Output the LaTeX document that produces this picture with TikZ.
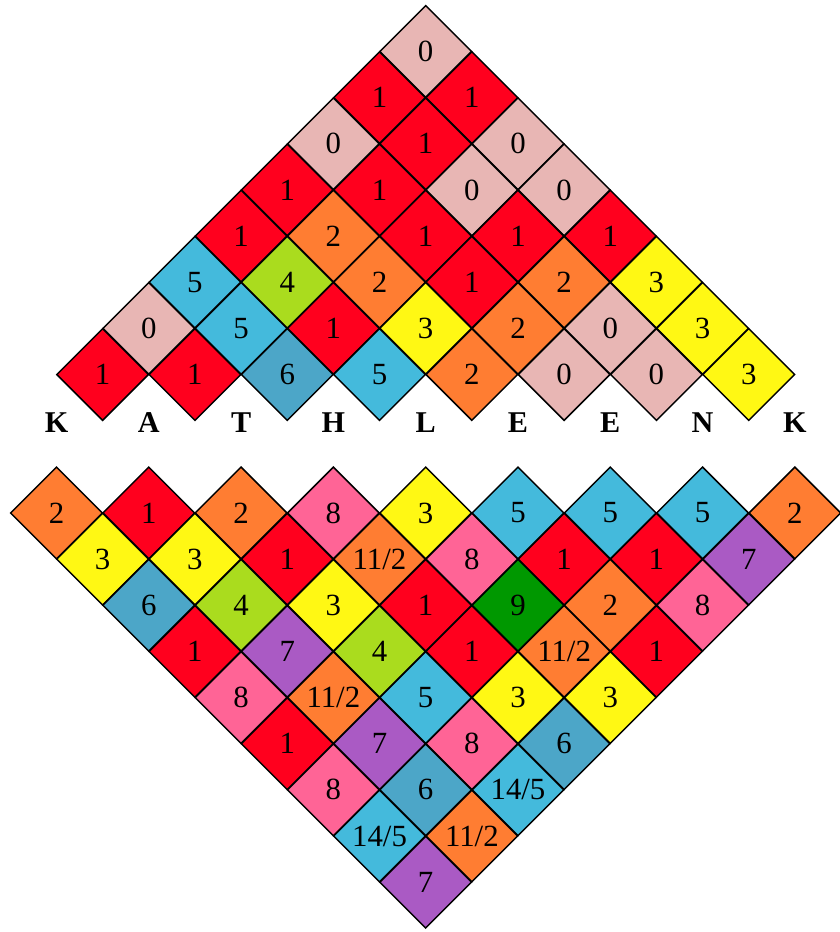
\documentclass[tikz,border=0pt]{standalone}
\usepackage{fontspec}
\setmainfont{Liberation Serif}
\usetikzlibrary{shapes.geometric}

\definecolor{cRose}{RGB}{232,182,180}
\definecolor{cRed}{RGB}{255,0,30}
\definecolor{cOrange}{RGB}{255,125,50}
\definecolor{cYellow}{RGB}{255,248,20}
\definecolor{cLime}{RGB}{170,220,30}
\definecolor{cSky}{RGB}{68,186,220}
\definecolor{cSteel}{RGB}{76,166,200}
\definecolor{cPurple}{RGB}{170,90,196}
\definecolor{cPink}{RGB}{255,100,150}
\definecolor{cGreen}{RGB}{0,152,0}

\tikzset{
  cell/.style={diamond, aspect=1, draw=black, line width=0.45pt,
    minimum width=1cm, minimum height=1cm, inner sep=0pt,
    font=\fontsize{9.5}{11}\selectfont},
  rosecell/.style={cell, fill=cRose},
  redcell/.style={cell, fill=cRed},
  orangecell/.style={cell, fill=cOrange},
  yellowcell/.style={cell, fill=cYellow},
  limecell/.style={cell, fill=cLime},
  skycell/.style={cell, fill=cSky},
  steelcell/.style={cell, fill=cSteel},
  purplecell/.style={cell, fill=cPurple},
  pinkcell/.style={cell, fill=cPink},
  greencell/.style={cell, fill=cGreen},
  letter/.style={font=\fontsize{9.3}{11}\selectfont\bfseries, inner sep=0pt}
}

\begin{document}
\begin{tikzpicture}[x=0.5cm,y=0.5cm]
    \useasboundingbox (-1.224,-11.08) rectangle (16.977,9.115);

    % Upper triangle (row 7 at the top)
    \node[rosecell]   (t70) at (8,8) {0};
    \node[redcell]    (t60) at (7,7) {1};
    \node[redcell]    (t61) at (9,7) {1};
    \node[rosecell]   (t50) at (6,6) {0};
    \node[redcell]    (t51) at (8,6) {1};
    \node[rosecell]   (t52) at (10,6) {0};
    \node[redcell]    (t40) at (5,5) {1};
    \node[redcell]    (t41) at (7,5) {1};
    \node[rosecell]   (t42) at (9,5) {0};
    \node[rosecell]   (t43) at (11,5) {0};
    \node[redcell]    (t30) at (4,4) {1};
    \node[orangecell] (t31) at (6,4) {2};
    \node[redcell]    (t32) at (8,4) {1};
    \node[redcell]    (t33) at (10,4) {1};
    \node[redcell]    (t34) at (12,4) {1};
    \node[skycell]    (t20) at (3,3) {5};
    \node[limecell]   (t21) at (5,3) {4};
    \node[orangecell] (t22) at (7,3) {2};
    \node[redcell]    (t23) at (9,3) {1};
    \node[orangecell] (t24) at (11,3) {2};
    \node[yellowcell] (t25) at (13,3) {3};
    \node[rosecell]   (t10) at (2,2) {0};
    \node[skycell]    (t11) at (4,2) {5};
    \node[redcell]    (t12) at (6,2) {1};
    \node[yellowcell] (t13) at (8,2) {3};
    \node[orangecell] (t14) at (10,2) {2};
    \node[rosecell]   (t15) at (12,2) {0};
    \node[yellowcell] (t16) at (14,2) {3};
    \node[redcell]    (t00) at (1,1) {1};
    \node[redcell]    (t01) at (3,1) {1};
    \node[steelcell]  (t02) at (5,1) {6};
    \node[skycell]    (t03) at (7,1) {5};
    \node[orangecell] (t04) at (9,1) {2};
    \node[rosecell]   (t05) at (11,1) {0};
    \node[rosecell]   (t06) at (13,1) {0};
    \node[yellowcell] (t07) at (15,1) {3};

    % Name
    \node[letter] (lK1) at (0,-0.05)  {K};
    \node[letter] (lA)  at (2,-0.05)  {A};
    \node[letter] (lT)  at (4,-0.05)  {T};
    \node[letter] (lH)  at (6,-0.05)  {H};
    \node[letter] (lL)  at (8,-0.05)  {L};
    \node[letter] (lE1) at (10,-0.05) {E};
    \node[letter] (lE2) at (12,-0.05) {E};
    \node[letter] (lN)  at (14,-0.05) {N};
    \node[letter] (lK2) at (16,-0.05) {K};

    % Lower triangle (row 0 at the top)
    \node[orangecell] (b00) at (0,-2) {2};
    \node[redcell]    (b01) at (2,-2) {1};
    \node[orangecell] (b02) at (4,-2) {2};
    \node[pinkcell]   (b03) at (6,-2) {8};
    \node[yellowcell] (b04) at (8,-2) {3};
    \node[skycell]    (b05) at (10,-2) {5};
    \node[skycell]    (b06) at (12,-2) {5};
    \node[skycell]    (b07) at (14,-2) {5};
    \node[orangecell] (b08) at (16,-2) {2};
    \node[yellowcell] (b10) at (1,-3) {3};
    \node[yellowcell] (b11) at (3,-3) {3};
    \node[redcell]    (b12) at (5,-3) {1};
    \node[orangecell] (b13) at (7,-3) {11/2};
    \node[pinkcell]   (b14) at (9,-3) {8};
    \node[redcell]    (b15) at (11,-3) {1};
    \node[redcell]    (b16) at (13,-3) {1};
    \node[purplecell] (b17) at (15,-3) {7};
    \node[steelcell]  (b20) at (2,-4) {6};
    \node[limecell]   (b21) at (4,-4) {4};
    \node[yellowcell] (b22) at (6,-4) {3};
    \node[redcell]    (b23) at (8,-4) {1};
    \node[greencell]  (b24) at (10,-4) {9};
    \node[orangecell] (b25) at (12,-4) {2};
    \node[pinkcell]   (b26) at (14,-4) {8};
    \node[redcell]    (b30) at (3,-5) {1};
    \node[purplecell] (b31) at (5,-5) {7};
    \node[limecell]   (b32) at (7,-5) {4};
    \node[redcell]    (b33) at (9,-5) {1};
    \node[orangecell] (b34) at (11,-5) {11/2};
    \node[redcell]    (b35) at (13,-5) {1};
    \node[pinkcell]   (b40) at (4,-6) {8};
    \node[orangecell] (b41) at (6,-6) {11/2};
    \node[skycell]    (b42) at (8,-6) {5};
    \node[yellowcell] (b43) at (10,-6) {3};
    \node[yellowcell] (b44) at (12,-6) {3};
    \node[redcell]    (b50) at (5,-7) {1};
    \node[purplecell] (b51) at (7,-7) {7};
    \node[pinkcell]   (b52) at (9,-7) {8};
    \node[steelcell]  (b53) at (11,-7) {6};
    \node[pinkcell]   (b60) at (6,-8) {8};
    \node[steelcell]  (b61) at (8,-8) {6};
    \node[skycell]    (b62) at (10,-8) {14/5};
    \node[skycell]    (b70) at (7,-9) {14/5};
    \node[orangecell] (b71) at (9,-9) {11/2};
    \node[purplecell] (b80) at (8,-10) {7};
\end{tikzpicture}
\end{document}
